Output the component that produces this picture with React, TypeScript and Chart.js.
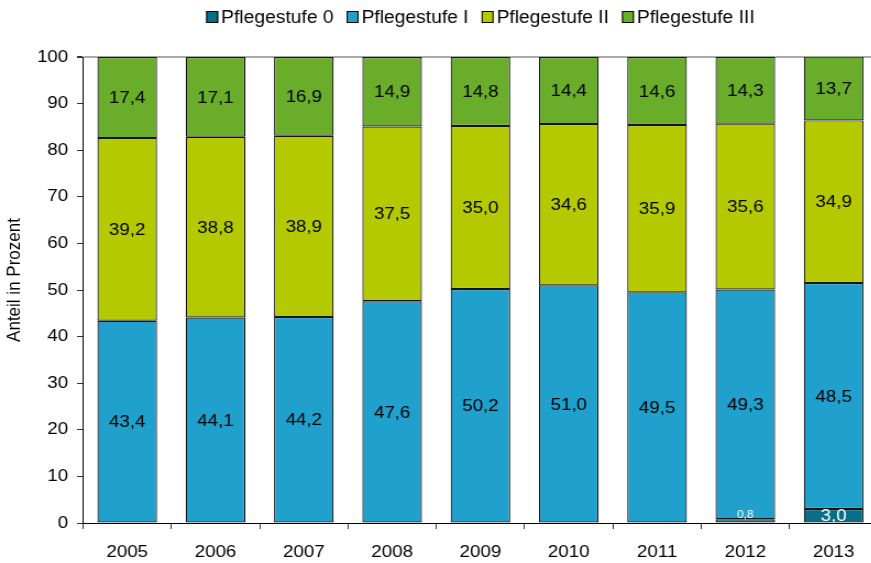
import React, { useEffect, useRef } from "react";
import { Chart, registerables } from "chart.js";

Chart.register(...registerables);

const years = ["2005", "2006", "2007", "2008", "2009", "2010", "2011", "2012", "2013"];
const seriesNames = ["Pflegestufe 0", "Pflegestufe I", "Pflegestufe II", "Pflegestufe III"];
const stufe0 = [0, 0, 0, 0, 0, 0, 0, 0.8, 3.0];
const stufe1 = [43.4, 44.1, 44.2, 47.6, 50.2, 51.0, 49.5, 49.3, 48.5];
const stufe2 = [39.2, 38.8, 38.9, 37.5, 35.0, 34.6, 35.9, 35.6, 34.9];
const stufe3 = [17.4, 17.1, 16.9, 14.9, 14.8, 14.4, 14.6, 14.3, 13.7];
const colors = ["#0a6e87", "#20a0cc", "#b5c900", "#6aad2b"];
const yTitle = "Anteil in Prozent";

const FONT = '"Liberation Sans", Arial, sans-serif';
const SX = 1.1; // horizontal stretch of the reference
const W = 800; // logical width (800 * 1.1 = 880)
const H = 563;

const dataLabels = {
  id: "dataLabels",
  afterDatasetsDraw(chart: any) {
    const ctx = chart.ctx;
    ctx.save();
    ctx.textAlign = "center";
    ctx.textBaseline = "middle";
    chart.data.datasets.forEach((ds: any, i: number) => {
      const meta = chart.getDatasetMeta(i);
      meta.data.forEach((bar: any, j: number) => {
        const v = ds.data[j];
        if (!v) return;
        const p = bar.getProps(["x", "y", "base"], true);
        const top = Math.max(p.y, chart.chartArea.top);
        const h = p.base - top;
        const text = v.toFixed(1).replace(".", ",");
        let y = top + h / 2 + 1;
        let size = 17;
        let color = "#000";
        if (i === 0) {
          color = "#fff";
          if (h < 8) {
            size = 11;
            y = top - 4;
          }
        }
        ctx.fillStyle = color;
        ctx.font = `${size}px ${FONT}`;
        ctx.fillText(text, p.x, y);
      });
    });
    ctx.restore();
  },
};

const customLegend = {
  id: "customLegend",
  afterDraw(chart: any) {
    const ctx = chart.ctx;
    ctx.save();
    ctx.font = `17.5px ${FONT}`;
    ctx.textBaseline = "middle";
    ctx.textAlign = "left";
    const box = 12 / SX;
    const gap = 3 / SX;
    const itemGap = 13 / SX;
    const items = chart.data.datasets.map((d: any) => ({
      label: d.label,
      color: d.backgroundColor,
      w: ctx.measureText(d.label).width,
    }));
    let total = 0;
    items.forEach((it: any, k: number) => {
      total += box + gap + it.w + (k > 0 ? itemGap : 0);
    });
    const center = (chart.chartArea.left + chart.chartArea.right) / 2;
    let x = center - total / 2;
    const cy = 17;
    items.forEach((it: any) => {
      ctx.fillStyle = it.color;
      ctx.fillRect(x, cy - 6, box, 12);
      ctx.strokeStyle = "#000";
      ctx.lineWidth = 1;
      ctx.strokeRect(x + 0.5, cy - 5.5, box - 1, 11);
      ctx.fillStyle = "#000";
      ctx.fillText(it.label, x + box + gap, cy + 1);
      x += box + gap + it.w + itemGap;
    });
    ctx.restore();
  },
};

const axisTitle = {
  id: "axisTitle",
  afterDraw(chart: any) {
    const ctx = chart.ctx;
    ctx.save();
    ctx.font = `17px ${FONT}`;
    ctx.fillStyle = "#000";
    ctx.textAlign = "center";
    ctx.textBaseline = "middle";
    ctx.translate(15 / SX, 280);
    ctx.rotate(-Math.PI / 2);
    ctx.fillText(yTitle, 0, 0);
    ctx.restore();
  },
};

export default function App() {
  const ref = useRef<HTMLCanvasElement>(null);
  useEffect(() => {
    const allSeries = [stufe0, stufe1, stufe2, stufe3];
    const chart = new Chart(ref.current as HTMLCanvasElement, {
      type: "bar",
      data: {
        labels: years,
        datasets: allSeries.map((d, i) => ({
          label: seriesNames[i],
          data: d,
          backgroundColor: colors[i],
          borderColor: "#151515",
          borderWidth: 1.2,
          borderSkipped: false,
          barPercentage: 0.675,
          categoryPercentage: 1,
        })),
      },
      options: {
        animation: false,
        responsive: true,
        maintainAspectRatio: false,
        layout: { padding: { top: 57, right: 2, left: 0, bottom: 0 } },
        plugins: {
          legend: { display: false },
          tooltip: { enabled: false },
        },
        scales: {
          x: {
            stacked: true,
            offset: true,
            grid: {
              display: true,
              offset: true,
              drawOnChartArea: false,
              drawTicks: true,
              tickLength: 6,
              tickColor: "#333",
            },
            border: { display: true, color: "#000", width: 1 },
            ticks: {
              color: "#000",
              font: { family: FONT, size: 17 },
              padding: 13,
              maxRotation: 0,
            },
            afterFit(scale: any) {
              scale.height = 40;
            },
          },
          y: {
            stacked: true,
            min: 0,
            max: 100,
            ticks: {
              stepSize: 10,
              color: "#000",
              font: { family: FONT, size: 17 },
              padding: 8,
            },
            grid: {
              drawOnChartArea: true,
              tickLength: 5.5,
              tickColor: "#333",
              color: (c: any) => (c.tick && c.tick.value === 100 ? "#aaaaaa" : "rgba(0,0,0,0)"),
              lineWidth: (c: any) => (c.tick && c.tick.value === 100 ? 2 : 1),
            },
            border: { display: true, color: "#000", width: 1 },
            title: { display: false },
            afterFit(scale: any) {
              scale.width = 75.5;
            },
          },
        },
      },
      plugins: [dataLabels, customLegend, axisTitle],
    });
    return () => chart.destroy();
  }, []);

  return (
    <div
      style={{
        position: "fixed",
        left: 0,
        top: 0,
        width: 871,
        height: H,
        overflow: "hidden",
        background: "#fff",
      }}
    >
      <div
        style={{
          position: "absolute",
          left: 0,
          top: 0,
          width: W,
          height: H,
          transform: `scaleX(${SX})`,
          transformOrigin: "0 0",
        }}
      >
        <canvas ref={ref} />
      </div>
    </div>
  );
}
